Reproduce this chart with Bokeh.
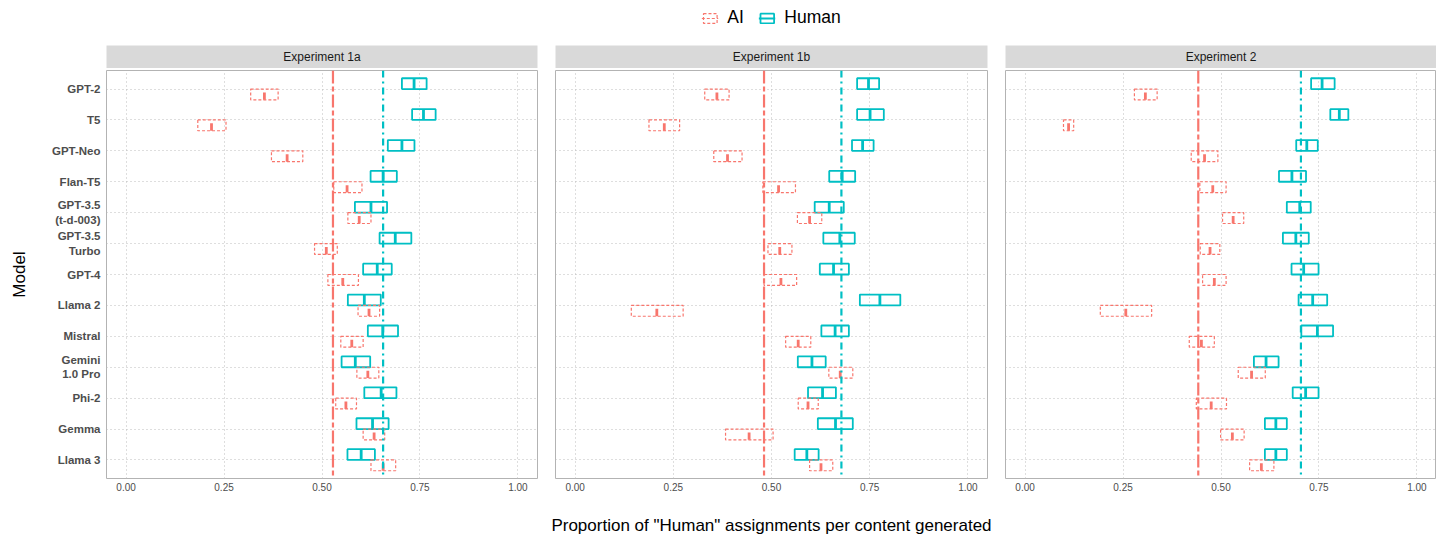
from bokeh.plotting import figure
from bokeh.models import (ColumnDataSource, Range1d, FixedTicker, Legend, LegendItem,
                          Span, Label)
from bokeh.layouts import row, column
from bokeh.embed import file_html
from bokeh.resources import INLINE

# ---------------- data ----------------
models = ["GPT-2", "T5", "GPT-Neo", "Flan-T5", "GPT-3.5\n(t-d-003)", "GPT-3.5\nTurbo",
          "GPT-4", "Llama 2", "Mistral", "Gemini\n1.0 Pro", "Phi-2", "Gemma", "Llama 3"]
experiments = ["Experiment 1a", "Experiment 1b", "Experiment 2"]
x_ticks = [0.0, 0.25, 0.5, 0.75, 1.0]
x_tick_labels = ["0.00", "0.25", "0.50", "0.75", "1.00"]

e1a_human_lo = [0.704, 0.730, 0.668, 0.624, 0.584, 0.647, 0.605, 0.566, 0.617, 0.550, 0.608, 0.588, 0.565]
e1a_human_med = [0.735, 0.759, 0.704, 0.656, 0.625, 0.687, 0.641, 0.608, 0.655, 0.585, 0.651, 0.629, 0.600]
e1a_human_hi = [0.767, 0.790, 0.736, 0.691, 0.666, 0.728, 0.678, 0.650, 0.694, 0.623, 0.690, 0.670, 0.635]
e1a_ai_lo = [0.318, 0.183, 0.371, 0.530, 0.566, 0.481, 0.515, 0.592, 0.548, 0.589, 0.535, 0.605, 0.625]
e1a_ai_med = [0.353, 0.218, 0.411, 0.564, 0.595, 0.511, 0.553, 0.620, 0.576, 0.617, 0.561, 0.633, 0.656]
e1a_ai_hi = [0.388, 0.255, 0.451, 0.602, 0.625, 0.539, 0.593, 0.647, 0.605, 0.645, 0.588, 0.660, 0.688]
e1a_ai_mean = 0.528
e1a_human_mean = 0.656

e1b_human_lo = [0.718, 0.718, 0.705, 0.647, 0.610, 0.632, 0.623, 0.725, 0.627, 0.567, 0.593, 0.618, 0.559]
e1b_human_med = [0.747, 0.751, 0.732, 0.680, 0.647, 0.674, 0.658, 0.776, 0.662, 0.603, 0.630, 0.663, 0.590]
e1b_human_hi = [0.774, 0.786, 0.760, 0.713, 0.684, 0.712, 0.697, 0.828, 0.697, 0.638, 0.664, 0.707, 0.620]
e1b_ai_lo = [0.330, 0.188, 0.353, 0.478, 0.566, 0.491, 0.481, 0.143, 0.536, 0.646, 0.568, 0.383, 0.597]
e1b_ai_med = [0.361, 0.227, 0.388, 0.518, 0.597, 0.521, 0.524, 0.208, 0.568, 0.675, 0.593, 0.443, 0.626]
e1b_ai_hi = [0.392, 0.266, 0.425, 0.561, 0.628, 0.552, 0.564, 0.275, 0.600, 0.707, 0.619, 0.504, 0.656]
e1b_ai_mean = 0.481
e1b_human_mean = 0.678

e2_human_lo = [0.730, 0.779, 0.692, 0.648, 0.668, 0.658, 0.680, 0.698, 0.705, 0.584, 0.683, 0.612, 0.612]
e2_human_med = [0.758, 0.802, 0.719, 0.681, 0.701, 0.691, 0.711, 0.734, 0.746, 0.615, 0.716, 0.640, 0.640]
e2_human_hi = [0.790, 0.825, 0.747, 0.717, 0.729, 0.724, 0.749, 0.771, 0.786, 0.647, 0.749, 0.668, 0.668]
e2_ai_lo = [0.279, 0.098, 0.424, 0.446, 0.504, 0.447, 0.453, 0.192, 0.419, 0.544, 0.437, 0.499, 0.573]
e2_ai_med = [0.307, 0.111, 0.458, 0.479, 0.531, 0.472, 0.483, 0.257, 0.450, 0.578, 0.475, 0.529, 0.603]
e2_ai_hi = [0.337, 0.124, 0.492, 0.513, 0.558, 0.497, 0.513, 0.323, 0.483, 0.613, 0.514, 0.559, 0.635]
e2_ai_mean = 0.442
e2_human_mean = 0.704

# ---------------- style ----------------
RED = "#F8766D"
CYAN = "#00BFC4"
FONT = "Liberation Sans"
BOX_H = 0.35

n = len(models)
ypos = [float(n - i) for i in range(n)]

left_borders = [106, 9, 9]
right_borders = [9, 9, 0]
fig_widths = [546, 450, 440]
BOTTOM = 60
PANEL_H = 2 + 408 + BOTTOM


def make_panel(k, h_lo, h_med, h_hi, a_lo, a_med, a_hi, a_mean, h_mean):
    p = figure(width=fig_widths[k], height=PANEL_H,
               x_range=Range1d(-0.05, 1.05), y_range=Range1d(0.4, n + 0.6),
               output_backend="svg", toolbar_location=None, tools="",
               min_border_left=left_borders[k], min_border_right=right_borders[k],
               min_border_top=2, min_border_bottom=BOTTOM,
               y_axis_location="left" if k == 0 else None)
    p.outline_line_color = "#B3B3B3"
    p.outline_line_width = 1
    p.background_fill_color = "white"

    # grids
    p.xgrid.ticker = FixedTicker(ticks=x_ticks)
    p.ygrid.ticker = FixedTicker(ticks=ypos)
    for g in (p.xgrid[0], p.ygrid[0]):
        g.grid_line_color = "#BDBDBD"
        g.grid_line_dash = "1 3"
        g.grid_line_width = 1

    # x axis
    xa = p.xaxis[0]
    xa.ticker = FixedTicker(ticks=x_ticks)
    xa.major_label_overrides = {t: l for t, l in zip(x_ticks, x_tick_labels)}
    xa.axis_line_color = None
    xa.major_tick_line_color = None
    xa.minor_tick_line_color = None
    xa.major_tick_out = 0
    xa.major_tick_in = 0
    xa.major_label_text_font = FONT
    xa.major_label_text_font_size = "10px"
    xa.major_label_text_color = "#4D4D4D"
    xa.major_label_standoff = 4
    if k == 1:
        xa.axis_label = 'Proportion of "Human" assignments per content generated'
        xa.axis_label_text_font = FONT
        xa.axis_label_text_font_size = "17px"
        xa.axis_label_text_font_style = "normal"
        xa.axis_label_text_color = "black"
        xa.axis_label_standoff = 22

    if k == 0:
        ya = p.yaxis[0]
        ya.ticker = FixedTicker(ticks=ypos)
        ya.major_label_overrides = {t: m for t, m in zip(ypos, models)}
        ya.axis_line_color = None
        ya.major_tick_line_color = None
        ya.minor_tick_line_color = None
        ya.major_tick_out = 0
        ya.major_tick_in = 0
        ya.major_label_text_font = FONT
        ya.major_label_text_font_size = "11.5px"
        ya.major_label_text_font_style = "bold"
        ya.major_label_text_color = "#4D4D4D"
        ya.major_label_standoff = 6
        ya.axis_label = "Model"
        ya.axis_label_text_font = FONT
        ya.axis_label_text_font_size = "17px"
        ya.axis_label_text_font_style = "normal"
        ya.axis_label_text_color = "black"
        ya.axis_label_standoff = 20

    # reference lines
    p.add_layout(Span(location=a_mean, dimension="height", line_color=RED,
                      line_width=2.2, line_dash="13 3 5 3"))
    p.add_layout(Span(location=h_mean, dimension="height", line_color=CYAN,
                      line_width=2.2, line_dash="7 4 2 4"))

    # Human boxes (above the category line)
    hsrc = ColumnDataSource(dict(
        lo=h_lo, med=h_med, hi=h_hi,
        b=[y for y in ypos], t=[y + BOX_H for y in ypos]))
    p.quad(left="lo", right="hi", bottom="b", top="t", source=hsrc,
           fill_color=None, line_color=CYAN, line_width=1.8)
    p.segment(x0="med", x1="med", y0="b", y1="t", source=hsrc,
              line_color=CYAN, line_width=2.8)

    # AI boxes (below the category line)
    asrc = ColumnDataSource(dict(
        lo=a_lo, med=a_med, hi=a_hi,
        b=[y - BOX_H for y in ypos], t=[y for y in ypos],
        m0=[y - 0.11 for y in ypos]))
    p.quad(left="lo", right="hi", bottom="b", top="t", source=asrc,
           fill_color=None, line_color=RED, line_width=1.2, line_dash="3 2")
    p.segment(x0="med", x1="med", y0="b", y1="m0", source=asrc,
              line_color=RED, line_width=2.8)
    return p


def make_strip(k, title):
    s = figure(width=fig_widths[k], height=23,
               x_range=Range1d(0, 1), y_range=Range1d(0, 1),
               output_backend="svg", toolbar_location=None, tools="",
               min_border_left=left_borders[k], min_border_right=right_borders[k],
               min_border_top=0, min_border_bottom=0,
               x_axis_location=None, y_axis_location=None)
    s.grid.visible = False
    s.outline_line_color = None
    s.background_fill_color = "#D9D9D9"
    s.add_layout(Label(x=0.5, y=0.5, text=title, text_align="center",
                       text_baseline="middle", text_font=FONT,
                       text_font_size="12px", text_color="#1A1A1A"))
    return s


panels = [
    make_panel(0, e1a_human_lo, e1a_human_med, e1a_human_hi, e1a_ai_lo, e1a_ai_med, e1a_ai_hi,
               e1a_ai_mean, e1a_human_mean),
    make_panel(1, e1b_human_lo, e1b_human_med, e1b_human_hi, e1b_ai_lo, e1b_ai_med, e1b_ai_hi,
               e1b_ai_mean, e1b_human_mean),
    make_panel(2, e2_human_lo, e2_human_med, e2_human_hi, e2_ai_lo, e2_ai_med, e2_ai_hi,
               e2_ai_mean, e2_human_mean),
]
strips = [make_strip(k, t) for k, t in enumerate(experiments)]

# ---------------- legend ----------------
lf = figure(width=sum(fig_widths), height=45,
            x_range=Range1d(0, 1), y_range=Range1d(0, 1),
            output_backend="svg", toolbar_location=None, tools="",
            min_border_left=106, min_border_right=0, min_border_top=0, min_border_bottom=0,
            x_axis_location=None, y_axis_location=None)
lf.grid.visible = False
lf.outline_line_color = None
nan = float("nan")


def dummy():
    return ColumnDataSource(dict(l=[nan], r=[nan], b=[nan], t=[nan]))


r_ai_box = lf.quad(left="l", right="r", bottom="b", top="t", source=dummy(),
                   fill_color=None, line_color=RED, line_width=1.2, line_dash="3 2")
r_ai_med = lf.segment(x0="l", x1="r", y0="b", y1="t", source=dummy(),
                      line_color=RED, line_width=1.2, line_dash="3 2")
r_h_box = lf.quad(left="l", right="r", bottom="b", top="t", source=dummy(),
                  fill_color=None, line_color=CYAN, line_width=1.8)
r_h_med = lf.segment(x0="l", x1="r", y0="b", y1="t", source=dummy(),
                     line_color=CYAN, line_width=1.8)
legend = Legend(items=[LegendItem(label="AI", renderers=[r_ai_box, r_ai_med]),
                       LegendItem(label="Human", renderers=[r_h_box, r_h_med])],
                orientation="horizontal", location="top_center",
                border_line_color=None, background_fill_alpha=0,
                label_text_font=FONT, label_text_font_size="17.5px", label_text_color="black",
                glyph_width=17, glyph_height=12, spacing=11, label_standoff=9,
                padding=0, margin=7)
lf.add_layout(legend, "center")

cols = [column(strips[k], panels[k], spacing=0) for k in range(3)]
layout = column(lf, row(*cols, spacing=0), spacing=0)

open("out.html", "w").write(file_html(layout, INLINE))
